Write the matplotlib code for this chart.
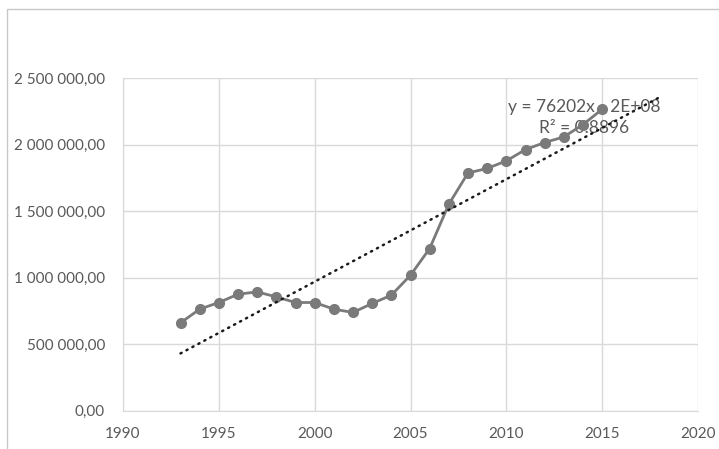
import numpy as np
import matplotlib
matplotlib.use('Agg')
import matplotlib.pyplot as plt
from matplotlib.patches import Rectangle
from matplotlib.ticker import FuncFormatter, MultipleLocator

years = [1993, 1994, 1995, 1996, 1997, 1998, 1999, 2000, 2001, 2002, 2003, 2004,
         2005, 2006, 2007, 2008, 2009, 2010, 2011, 2012, 2013, 2014, 2015]
values = [659000, 762000, 812000, 874000, 892000, 854000, 812000, 812000, 762000,
          737000, 805000, 867000, 1017000, 1218000, 1551000, 1786000, 1820000,
          1877000, 1962000, 2015000, 2057000, 2150000, 2265000]
trend_end = 2018
eq_text = 'y = 76202x - 2E+08'
r2_text = 'R² = 0.8896'

def fmt(v, pos):
    s = '{:,.2f}'.format(v)
    return s.replace(',', ' ').replace('.', ',')

def main():
    plt.rcParams['font.family'] = ['Lato', 'DejaVu Sans']
    fig = plt.figure(figsize=(7.19, 4.49), dpi=100)
    fig.patches.append(Rectangle((7 / 719, -0.01), 1, 1 - 9 / 449 + 0.01, transform=fig.transFigure,
                                 fill=False, edgecolor='#c8c8c8', lw=1))
    ax = fig.add_axes([123 / 719, 38.5 / 449, 575 / 719, 332.5 / 449])

    x = np.array(years)
    y = np.array(values)
    a, b = np.polyfit(x, y, 1)
    xt = np.array([years[0], trend_end])
    ax.plot(xt, a * xt + b, color='#1a1a1a', lw=1.8, linestyle=(0, (0.5, 2.2)),
            dash_capstyle='round', zorder=4)
    ax.plot(x, y, color='#7a7a7a', lw=2, marker='o', markersize=7, zorder=3)

    ax.text(2014.07, 2285000, eq_text, ha='center', va='center', color='#595959',
            fontsize=12.5, zorder=2)
    ax.text(2014.07, 2125000, r2_text, ha='center', va='center', color='#595959',
            fontsize=12.5, zorder=2)

    ax.set_xlim(1990, 2020)
    ax.set_ylim(0, 2500000)
    ax.xaxis.set_major_locator(MultipleLocator(5))
    ax.yaxis.set_major_locator(MultipleLocator(500000))
    ax.yaxis.set_major_formatter(FuncFormatter(fmt))
    ax.grid(True, color='#d9d9d9', lw=1)
    ax.set_axisbelow(True)
    for s in ['top', 'right']:
        ax.spines[s].set_visible(False)
    for s in ['left', 'bottom']:
        ax.spines[s].set_color('#d9d9d9')
    ax.tick_params(length=0, labelsize=11, colors='#595959')
    ax.tick_params(axis='y', pad=13)
    ax.tick_params(axis='x', pad=12)
    fig.savefig('out.png', dpi=100)

if __name__ == '__main__':
    main()
